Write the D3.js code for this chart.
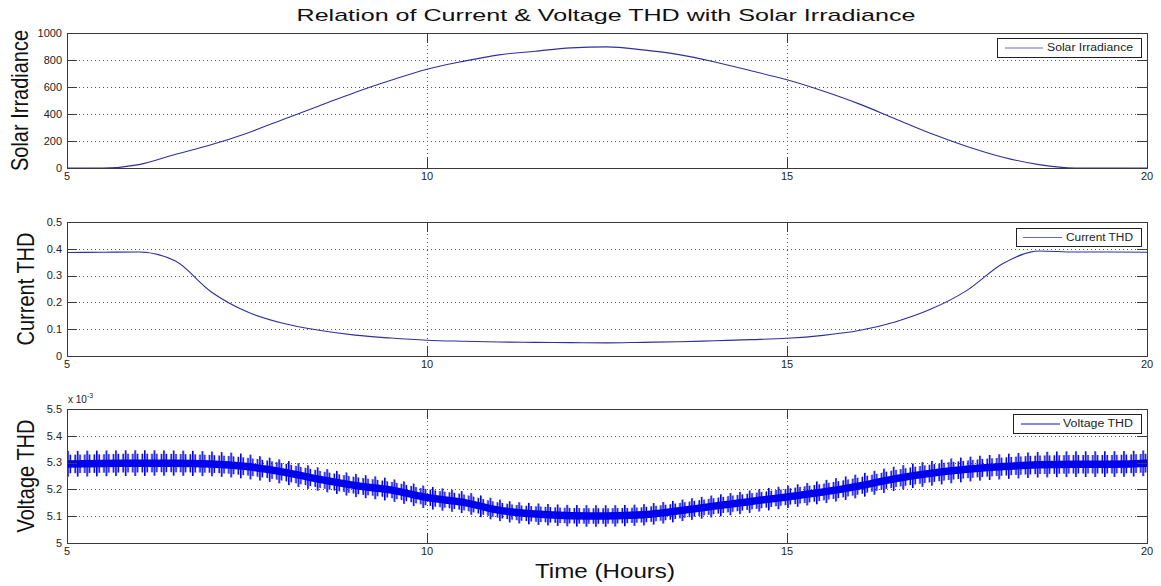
<!DOCTYPE html>
<html>
<head>
<meta charset="utf-8">
<script src="https://cdn.jsdelivr.net/npm/d3@7"></script>
<style>
  body { margin: 0; background: #fff; }
  svg { display: block; font-family: "Liberation Sans", Arial, sans-serif; }
</style>
</head>
<body>
<svg id="chart" width="1161" height="586"></svg>
<script>
// ---- data ----
const hours = [5,5.5,6,6.5,7,7.5,8,8.5,9,9.5,10,10.5,11,11.5,12,12.5,13,13.5,14,14.5,15,15.5,16,16.5,17,17.5,18,18.5,19,19.5,20];
const solarIrradiance = [0,0,25,100,172,258,360,460,560,650,732,790,838,865,890,897,875,840,785,720,653,570,475,365,255,160,80,25,0,0,0];
const currentTHD = [0.386,0.387,0.388,0.355,0.24,0.165,0.122,0.096,0.078,0.067,0.059,0.055,0.052,0.051,0.050,0.049,0.051,0.053,0.057,0.061,0.066,0.077,0.095,0.127,0.175,0.245,0.345,0.392,0.388,0.388,0.387];
// voltage THD in units of 1e-3: band centre and half-width of the oscillation
const voltageTHD = [5.295,5.297,5.298,5.298,5.295,5.285,5.265,5.238,5.215,5.198,5.170,5.152,5.122,5.108,5.102,5.101,5.105,5.120,5.138,5.155,5.172,5.190,5.213,5.240,5.260,5.275,5.285,5.292,5.294,5.294,5.298];
const voltageSpread = [0.048,0.048,0.048,0.047,0.046,0.046,0.045,0.044,0.043,0.042,0.042,0.041,0.040,0.040,0.040,0.040,0.040,0.040,0.041,0.042,0.042,0.043,0.044,0.045,0.046,0.046,0.047,0.048,0.048,0.048,0.048];

const xTicks = [5,10,15,20];
const solarTicks = [0,200,400,600,800,1000];
const currentTicks = [0,0.1,0.2,0.3,0.4,0.5];
const voltageTicks = [5,5.1,5.2,5.3,5.4,5.5];

const titleText = "Relation of Current & Voltage THD with Solar Irradiance";
const xLabel = "Time (Hours)";

// ---- layout ----
const svg = d3.select("#chart");
const left = 67, right = 1147;
const x = d3.scaleLinear().domain([5,20]).range([left,right]);
const thinColor = "#2f2f9c";
const frameColor = "#3a3a3a";
const gridColor = "#555";

const panels = [
  {top:33,  bottom:168, domain:[0,1000], ticks:solarTicks, fmt:d=>String(d), label:"Solar Irradiance", labelX:28,
   legend:{x0:997, y0:38, w:144, h:19, lx0:1005, lx1:1043, tx:1047, tw:86, text:"Solar Irradiance"}},
  {top:222, bottom:356, domain:[0,0.5], ticks:currentTicks, fmt:d=>d===0?"0":String(d), label:"Current THD", labelX:34,
   legend:{x0:1016, y0:228, w:125, h:18, lx0:1023, lx1:1062, tx:1066, tw:67, text:"Current THD"}},
  {top:409, bottom:543, domain:[5,5.5], ticks:voltageTicks, fmt:d=>String(d), label:"Voltage THD", labelX:34,
   legend:{x0:1013, y0:414, w:128, h:19, lx0:1021, lx1:1060, tx:1063, tw:70, text:"Voltage THD"}}
];

// stripe patterns for the oscillating voltage band
const defs = svg.append("defs");
const patA = defs.append("pattern").attr("id","stripesA").attr("patternUnits","userSpaceOnUse")
  .attr("width",9.6).attr("height",20);
patA.append("rect").attr("x",0).attr("y",0).attr("width",1.6).attr("height",20).attr("fill","#0000e0");
const patB = defs.append("pattern").attr("id","stripesB").attr("patternUnits","userSpaceOnUse")
  .attr("width",4.8).attr("height",20);
patB.append("rect").attr("x",2.4).attr("y",0).attr("width",1.6).attr("height",20).attr("fill","#0000e0");

panels.forEach((p, i) => {
  const y = d3.scaleLinear().domain(p.domain).range([p.bottom, p.top]);
  const g = svg.append("g");

  // grid
  g.selectAll(".hg").data(p.ticks.slice(1,-1)).join("line")
    .attr("x1", left).attr("x2", right).attr("y1", d=>Math.round(y(d))+0.5).attr("y2", d=>Math.round(y(d))+0.5)
    .attr("stroke", gridColor).attr("stroke-width",1).attr("stroke-dasharray","1,3");
  g.selectAll(".vg").data(xTicks.slice(1,-1)).join("line")
    .attr("y1", p.top).attr("y2", p.bottom).attr("x1", d=>Math.round(x(d))+0.5).attr("x2", d=>Math.round(x(d))+0.5)
    .attr("stroke", gridColor).attr("stroke-width",1).attr("stroke-dasharray","1,3");

  // data
  if (i === 0) {
    g.append("path").datum(hours.map((h,k)=>[h, solarIrradiance[k]]))
      .attr("fill","none").attr("stroke",thinColor).attr("stroke-width",1.1)
      .attr("d", d3.line().x(d=>x(d[0])).y(d=>y(d[1])).curve(d3.curveMonotoneX));
  } else if (i === 1) {
    g.append("path").datum(hours.map((h,k)=>[h, currentTHD[k]]))
      .attr("fill","none").attr("stroke",thinColor).attr("stroke-width",1.1)
      .attr("d", d3.line().x(d=>x(d[0])).y(d=>y(d[1])).curve(d3.curveMonotoneX));
  } else {
    const vd = hours.map((h,k)=>({h, m:voltageTHD[k], s:voltageSpread[k]}));
    const band = f => d3.area().x(d=>x(d.h)).y0(d=>y(d.m - f(d))).y1(d=>y(d.m + f(d))).curve(d3.curveMonotoneX);
    g.append("path").datum(vd).attr("fill","url(#stripesA)").attr("d", band(d=>d.s));
    g.append("path").datum(vd).attr("fill","url(#stripesB)").attr("d", band(d=>d.s*0.72));
    g.append("path").datum(vd).attr("fill","#0000f0").attr("d", band(d=>0.014));
  }

  // ticks (inward, both sides)
  const tl = 10;
  g.selectAll(".tl").data(p.ticks).join("line")
    .attr("x1", left).attr("x2", left+tl).attr("y1", d=>Math.round(y(d))+0.5).attr("y2", d=>Math.round(y(d))+0.5)
    .attr("stroke", frameColor);
  g.selectAll(".tr").data(p.ticks).join("line")
    .attr("x1", right-tl).attr("x2", right).attr("y1", d=>Math.round(y(d))+0.5).attr("y2", d=>Math.round(y(d))+0.5)
    .attr("stroke", frameColor);
  g.selectAll(".tb").data(xTicks).join("line")
    .attr("x1", d=>Math.round(x(d))+0.5).attr("x2", d=>Math.round(x(d))+0.5).attr("y1", p.bottom).attr("y2", p.bottom-tl)
    .attr("stroke", frameColor);
  g.selectAll(".tt").data(xTicks).join("line")
    .attr("x1", d=>Math.round(x(d))+0.5).attr("x2", d=>Math.round(x(d))+0.5).attr("y1", p.top).attr("y2", p.top+tl)
    .attr("stroke", frameColor);

  // frame
  g.append("rect").attr("x", left+0.5).attr("y", p.top+0.5).attr("width", right-left).attr("height", p.bottom-p.top)
    .attr("fill","none").attr("stroke", frameColor).attr("stroke-width",1);

  // tick labels
  g.selectAll(".yl").data(p.ticks).join("text")
    .attr("x", left-5).attr("y", d=>y(d)).attr("dy","0.35em").attr("text-anchor","end")
    .attr("font-size",11).attr("fill","#222").text(p.fmt);
  g.selectAll(".xl").data(xTicks).join("text")
    .attr("x", d=>x(d)).attr("y", p.bottom+12).attr("text-anchor","middle")
    .attr("font-size",11).attr("fill","#222").text(d=>String(d));

  // axis label (rotated)
  g.append("text")
    .attr("transform", `translate(${p.labelX},${(p.top+p.bottom)/2}) scale(1.2,1) rotate(-90)`)
    .attr("text-anchor","middle").attr("font-size",20).attr("fill","#111").text(p.label);

  // legend
  const L = p.legend;
  g.append("rect").attr("x", L.x0+0.5).attr("y", L.y0+0.5).attr("width", L.w).attr("height", L.h)
    .attr("fill","#fff").attr("stroke","#222").attr("stroke-width",1);
  g.append("line").attr("x1", L.lx0).attr("x2", L.lx1).attr("y1", L.y0+L.h/2+0.5).attr("y2", L.y0+L.h/2+0.5)
    .attr("stroke", i===2 ? "#1010c0" : "#6a6ab0").attr("stroke-width",1);
  g.append("text").attr("x", L.tx).attr("y", L.y0+L.h/2).attr("dy","0.36em")
    .attr("font-size",10).attr("fill","#222")
    .attr("textLength", L.tw).attr("lengthAdjust","spacingAndGlyphs").text(L.text);
});

// exponent label for voltage panel
const ex = svg.append("text").attr("x", 68).attr("y", 403).attr("font-size",10).attr("fill","#222");
ex.append("tspan").text("x 10");
ex.append("tspan").attr("dy",-5).attr("font-size",7).text("-3");

// title and x label
svg.append("text").attr("x", 606).attr("y", 21).attr("text-anchor","middle")
  .attr("font-size",17).attr("fill","#111")
  .attr("textLength", 619).attr("lengthAdjust","spacingAndGlyphs").text(titleText);
svg.append("text").attr("x", 605).attr("y", 578).attr("text-anchor","middle")
  .attr("font-size",20).attr("fill","#111")
  .attr("textLength", 140).attr("lengthAdjust","spacingAndGlyphs").text(xLabel);
</script>
</body>
</html>
